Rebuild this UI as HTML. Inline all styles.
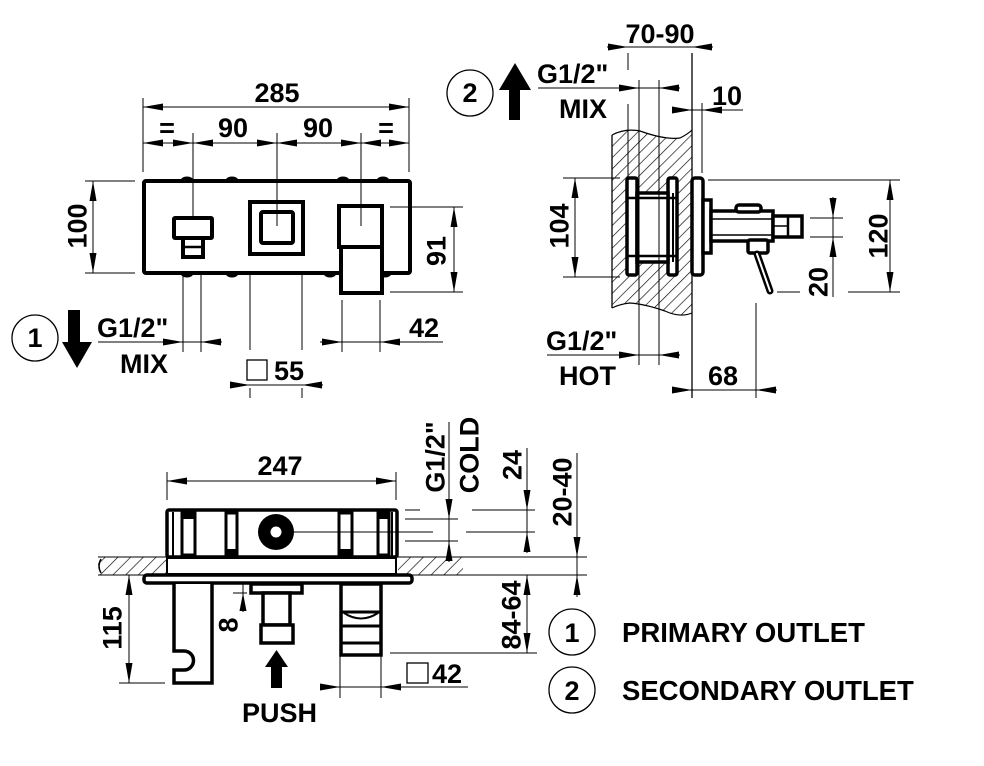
<!DOCTYPE html>
<html><head><meta charset="utf-8"><style>
html,body{margin:0;padding:0;background:#fff;}
svg{display:block;}
text{font-family:"Liberation Sans",Arial,sans-serif;font-weight:bold;fill:#000;}
</style></head><body>
<svg width="984" height="766" viewBox="0 0 984 766" xmlns="http://www.w3.org/2000/svg">
<defs>
<pattern id="h" width="8" height="8" patternUnits="userSpaceOnUse" patternTransform="rotate(45)">
<line x1="0" y1="0" x2="0" y2="8" stroke="#000" stroke-width="1.3"/>
</pattern>
<pattern id="h2" width="9" height="9" patternUnits="userSpaceOnUse" patternTransform="rotate(45)">
<line x1="0" y1="0" x2="0" y2="9" stroke="#000" stroke-width="1.3"/>
</pattern>
</defs>
<g stroke="#000" stroke-width="1" fill="none">
<!-- ========== FRONT VIEW ========== -->
<line x1="143" y1="107" x2="409" y2="107"/>
<line x1="143" y1="98" x2="143" y2="172"/>
<line x1="409" y1="98" x2="409" y2="172"/>
<line x1="143" y1="143" x2="409" y2="143"/>
<line x1="183" y1="257" x2="183" y2="352"/>
<line x1="201" y1="257" x2="201" y2="352"/>
<line x1="250" y1="262" x2="250" y2="350"/>
<line x1="302" y1="262" x2="302" y2="350"/>
<line x1="250" y1="388" x2="250" y2="398"/>
<line x1="302" y1="388" x2="302" y2="398"/>
<line x1="342" y1="300" x2="342" y2="352"/>
<line x1="380" y1="300" x2="380" y2="352"/>
<line x1="98" y1="342" x2="222" y2="342"/>
<line x1="320" y1="342" x2="443" y2="342"/>
<line x1="230" y1="385" x2="323" y2="385"/>
<line x1="93" y1="181" x2="93" y2="273"/>
<line x1="85" y1="181" x2="135" y2="181"/>
<line x1="85" y1="273" x2="135" y2="273"/>
<line x1="454" y1="207" x2="454" y2="292"/>
<line x1="390" y1="292" x2="463" y2="292"/>
<circle cx="35" cy="338" r="23" stroke-width="1.3"/>
<rect x="247" y="360" width="20" height="20" stroke-width="1.3"/>
</g>
<g fill="#000">
<polygon points="143,107 163,103.5 163,110.5"/><polygon points="409,107 389,103.5 389,110.5"/>
<polygon points="143,143 163,139.5 163,146.5"/><polygon points="193,143 173,139.5 173,146.5"/>
<polygon points="193,143 213,139.5 213,146.5"/><polygon points="277,143 257,139.5 257,146.5"/>
<polygon points="277,143 297,139.5 297,146.5"/><polygon points="361,143 341,139.5 341,146.5"/>
<polygon points="361,143 381,139.5 381,146.5"/><polygon points="409,143 389,139.5 389,146.5"/>
<polygon points="183,342 163,338.5 163,345.5"/><polygon points="201,342 221,338.5 221,345.5"/>
<polygon points="342,342 322,338.5 322,345.5"/><polygon points="380,342 400,338.5 400,345.5"/>
<polygon points="250,385 230,381.5 230,388.5"/><polygon points="302,385 322,381.5 322,388.5"/>
<polygon points="93,181 89.5,201 96.5,201"/><polygon points="93,273 89.5,253 96.5,253"/>
<polygon points="454,207 450.5,227 457.5,227"/><polygon points="454,292 450.5,272 457.5,272"/>
<!-- down arrow -->
<rect x="68" y="310" width="12" height="33"/>
<polygon points="62,342 92,342 77,368"/>
<!-- bumps -->
<ellipse cx="187" cy="180" rx="6" ry="3.5"/><ellipse cx="232" cy="180" rx="6" ry="3.5"/>
<ellipse cx="343" cy="180" rx="6" ry="3.5"/><ellipse cx="383" cy="180" rx="6" ry="3.5"/>
<ellipse cx="187" cy="274" rx="6" ry="3.5"/><ellipse cx="232" cy="274" rx="6" ry="3.5"/>
<ellipse cx="330" cy="274" rx="6" ry="3.5"/><ellipse cx="385" cy="274" rx="6" ry="3.5"/>
</g>
<g stroke="#000" stroke-width="4" fill="#fff">
<rect x="144" y="181" width="266" height="92" rx="2"/>
<rect x="174" y="218" width="38" height="20" rx="1"/>
<rect x="183" y="238" width="20" height="19"/>
<rect x="250" y="202" width="53" height="52"/>
<rect x="261" y="212" width="32" height="31" rx="2"/>
<rect x="339" y="206" width="43" height="41"/>
<rect x="341" y="247" width="41" height="46"/>
</g>
<line x1="185" y1="247" x2="202" y2="247" stroke="#000" stroke-width="2.5"/>
<line x1="193" y1="133" x2="193" y2="218" stroke="#000" stroke-width="1"/>
<line x1="277" y1="133" x2="277" y2="226" stroke="#000" stroke-width="1"/>
<line x1="361" y1="133" x2="361" y2="226" stroke="#000" stroke-width="1"/>
<line x1="390" y1="207" x2="463" y2="207" stroke="#000" stroke-width="1"/>

<text x="277" y="102" font-size="27" text-anchor="middle">285</text>
<text x="167" y="137" font-size="27" text-anchor="middle">=</text>
<text x="233" y="137" font-size="27" text-anchor="middle">90</text>
<text x="318" y="137" font-size="27" text-anchor="middle">90</text>
<text x="386" y="137" font-size="27" text-anchor="middle">=</text>
<text x="97" y="337" font-size="27">G1/2"</text>
<text x="120" y="373" font-size="27">MIX</text>
<text x="409" y="337" font-size="27">42</text>
<text x="274" y="380" font-size="27">55</text>
<text x="35" y="347" font-size="27" text-anchor="middle">1</text>
<text transform="translate(77,226) rotate(-90)" y="9.5" font-size="27" text-anchor="middle">100</text>
<text transform="translate(436,251) rotate(-90)" y="9.5" font-size="27" text-anchor="middle">91</text>

<!-- ========== SIDE VIEW ========== -->
<path d="M612,135 Q625,128 640,131 Q665,140 680,138 Q688,134 692,130 L692,313 Q680,318 665,311 Q645,304 630,303 Q620,304 612,308 Z" fill="url(#h)" stroke="none"/>
<path d="M612,135 Q625,128 640,131 Q665,140 680,138 Q688,134 692,130" fill="none" stroke="#000" stroke-width="1.2"/>
<path d="M612,308 Q620,304 630,303 Q645,304 665,311 Q680,318 692,313" fill="none" stroke="#000" stroke-width="1.2"/>
<g stroke="#000" stroke-width="1" fill="none">
<line x1="612" y1="135" x2="612" y2="308" stroke-width="1.3"/>
<line x1="692" y1="53" x2="692" y2="398" stroke-width="1.3"/>
<line x1="607" y1="47" x2="713" y2="47"/>
<line x1="628" y1="53" x2="628" y2="70"/>
<line x1="628" y1="104" x2="628" y2="180"/>
<line x1="538" y1="88" x2="680" y2="88"/>
<line x1="672" y1="110" x2="743" y2="110"/>
<line x1="702" y1="103" x2="702" y2="173"/>
<line x1="575" y1="178" x2="575" y2="277"/>
<line x1="563" y1="178" x2="620" y2="178"/>
<line x1="563" y1="277" x2="620" y2="277"/>
<line x1="890" y1="180" x2="890" y2="292"/>
<line x1="708" y1="180" x2="900" y2="180"/>
<line x1="848" y1="292" x2="900" y2="292"/>
<line x1="833" y1="197" x2="833" y2="297"/>
<line x1="810" y1="218" x2="843" y2="218"/>
<line x1="810" y1="237" x2="843" y2="237"/>
<line x1="777" y1="292" x2="800" y2="292"/>
<line x1="547" y1="355" x2="680" y2="355"/>
<line x1="672" y1="390" x2="777" y2="390"/>
<line x1="756" y1="303" x2="756" y2="398"/>
<circle cx="470" cy="93" r="23" stroke-width="1.3"/>
</g>
<g fill="#000">
<polygon points="628,47 608,43.5 608,50.5"/><polygon points="692,47 712,43.5 712,50.5"/>
<polygon points="639,88 619,84.5 619,91.5"/><polygon points="659,88 679,84.5 679,91.5"/>
<polygon points="692,110 672,106.5 672,113.5"/><polygon points="702,110 722,106.5 722,113.5"/>
<polygon points="575,178 571.5,198 578.5,198"/><polygon points="575,277 571.5,257 578.5,257"/>
<polygon points="890,180 886.5,200 893.5,200"/><polygon points="890,292 886.5,272 893.5,272"/>
<polygon points="833,218 829.5,198 836.5,198"/><polygon points="833,237 829.5,257 836.5,257"/>
<polygon points="639,355 619,351.5 619,358.5"/><polygon points="659,355 679,351.5 679,358.5"/>
<polygon points="692,390 672,386.5 672,393.5"/><polygon points="756,390 776,386.5 776,393.5"/>
<rect x="509" y="89" width="11" height="31"/>
<polygon points="499,90 531,90 515,63"/>
</g>
<g stroke="#000" stroke-width="3.5" fill="#fff">
<rect x="627" y="178" width="10" height="97" rx="2"/>
<rect x="668" y="178" width="9" height="97" rx="2"/>
<rect x="637" y="193" width="31" height="69"/>
<rect x="692" y="178" width="11" height="97" rx="3"/>
<rect x="703" y="200" width="8" height="53"/>
<rect x="711" y="211" width="62" height="30"/>
<rect x="736" y="205" width="25" height="7" rx="3"/>
<rect x="773" y="216" width="29" height="21"/>
<rect x="748" y="240" width="20" height="13" rx="2"/>
</g>
<g stroke="#000" fill="none">
<line x1="627" y1="198" x2="677" y2="198" stroke-width="2.5"/>
<line x1="627" y1="256" x2="677" y2="256" stroke-width="2.5"/>
<line x1="673" y1="193" x2="673" y2="262" stroke-width="2"/>
<line x1="711" y1="219" x2="773" y2="219" stroke-width="1.5"/>
<line x1="711" y1="235" x2="773" y2="235" stroke-width="1.5"/>
<line x1="788" y1="216" x2="788" y2="237" stroke-width="2.5"/>
<line x1="773" y1="226" x2="788" y2="226" stroke-width="1.5"/>
<line x1="757" y1="254" x2="770" y2="291" stroke-width="7" stroke-linecap="round"/>
<line x1="757" y1="254" x2="770" y2="291" stroke="#fff" stroke-width="2" stroke-linecap="round"/>
<line x1="639" y1="80" x2="639" y2="365" stroke-width="1"/>
<line x1="659" y1="80" x2="659" y2="365" stroke-width="1"/>
</g>
<text x="660" y="43" font-size="27" text-anchor="middle">70-90</text>
<text x="537" y="83" font-size="27">G1/2"</text>
<text x="559" y="118" font-size="27">MIX</text>
<text x="712" y="105" font-size="27">10</text>
<text x="546" y="350" font-size="27">G1/2"</text>
<text x="559" y="385" font-size="27">HOT</text>
<text x="723" y="385" font-size="27" text-anchor="middle">68</text>
<text x="470" y="102" font-size="27" text-anchor="middle">2</text>
<text transform="translate(559,226) rotate(-90)" y="9.5" font-size="27" text-anchor="middle">104</text>
<text transform="translate(878,236) rotate(-90)" y="9.5" font-size="27" text-anchor="middle">120</text>
<text transform="translate(818,282) rotate(-90)" y="9.5" font-size="27" text-anchor="middle">20</text>

<!-- ========== BOTTOM VIEW ========== -->
<rect x="98" y="557" width="68" height="18" fill="url(#h2)"/>
<rect x="398" y="557" width="65" height="18" fill="url(#h2)"/>
<g stroke="#000" stroke-width="1" fill="none">
<line x1="98" y1="557" x2="587" y2="557"/>
<line x1="98" y1="575" x2="587" y2="575"/>
<path d="M101,559 Q97,566 101,573" stroke-width="1.5"/>
<line x1="167" y1="481" x2="396" y2="481"/>
<line x1="167" y1="472" x2="167" y2="500"/>
<line x1="396" y1="472" x2="396" y2="500"/>
<line x1="405" y1="510" x2="420" y2="510"/>
<line x1="472" y1="510" x2="535" y2="510"/>
<line x1="466" y1="532" x2="535" y2="532"/>
<line x1="405" y1="519" x2="458" y2="519"/>
<line x1="405" y1="541" x2="458" y2="541"/>
<line x1="449" y1="422" x2="449" y2="562"/>
<line x1="527" y1="448" x2="527" y2="553"/>
<line x1="577" y1="453" x2="577" y2="597"/>
<line x1="243" y1="563" x2="243" y2="612"/>
<line x1="233" y1="593" x2="247" y2="593"/>
<line x1="129" y1="575" x2="129" y2="683"/>
<line x1="119" y1="683" x2="165" y2="683"/>
<line x1="527" y1="575" x2="527" y2="653"/>
<line x1="390" y1="653" x2="537" y2="653"/>
<line x1="320" y1="687" x2="468" y2="687"/>
<line x1="340" y1="655" x2="340" y2="698"/>
<line x1="381" y1="655" x2="381" y2="698"/>
<rect x="407" y="663" width="21" height="20" stroke-width="1.3"/>
</g>
<g fill="#000">
<polygon points="167,481 187,477.5 187,484.5"/><polygon points="396,481 376,477.5 376,484.5"/>
<polygon points="449,519 445.5,499 452.5,499"/><polygon points="449,541 445.5,561 452.5,561"/>
<polygon points="527,510 523.5,490 530.5,490"/><polygon points="527,532 523.5,552 530.5,552"/>
<polygon points="577,557 573.5,537 580.5,537"/><polygon points="577,575 573.5,595 580.5,595"/>
<polygon points="243,583 239.5,565 246.5,565"/><polygon points="243,593 239.5,611 246.5,611"/>
<polygon points="129,575 125.5,595 132.5,595"/><polygon points="129,683 125.5,663 132.5,663"/>
<polygon points="527,575 523.5,595 530.5,595"/><polygon points="527,653 523.5,633 530.5,633"/>
<polygon points="340,687 320,683.5 320,690.5"/><polygon points="381,687 401,683.5 401,690.5"/>
<rect x="271" y="666" width="11" height="22"/>
<polygon points="265,667 288,667 276.5,650"/>
</g>
<g stroke="#000" stroke-width="3.5" fill="#fff">
<rect x="167" y="558" width="229" height="16" stroke-width="2"/>
<rect x="167" y="510" width="230" height="47" rx="2"/>
<rect x="144" y="575" width="268" height="8" rx="3"/>
<path d="M174,584 L174,651 L184,651 A9.5 9.5 0 1 1 184,670 L174,670 L174,683 L212,683 L212,584"/>
<rect x="251" y="584" width="51" height="9"/>
<rect x="263" y="593" width="27" height="32"/>
<rect x="261" y="625" width="32" height="18"/>
<rect x="341" y="584" width="40" height="71"/>
</g>
<g stroke="#000" fill="none">
<line x1="173" y1="512" x2="173" y2="556" stroke-width="2"/>
<line x1="392" y1="512" x2="392" y2="556" stroke-width="2"/>
<rect x="182" y="513" width="13" height="42" stroke-width="3"/>
<rect x="226" y="513" width="11" height="42" stroke-width="3"/>
<rect x="339" y="513" width="13" height="42" stroke-width="3"/>
<rect x="378" y="513" width="11" height="42" stroke-width="3"/>
<line x1="341" y1="612" x2="381" y2="612" stroke-width="3"/>
<path d="M344,613 Q361,624 378,613" stroke-width="2"/>
<line x1="341" y1="626" x2="381" y2="626" stroke-width="3"/>
<line x1="341" y1="643" x2="381" y2="643" stroke-width="3"/>
<line x1="276" y1="532" x2="433" y2="532" stroke-width="1"/>
</g>
<g fill="#000">
<rect x="182" y="513" width="13" height="6"/>
<rect x="378" y="513" width="11" height="6"/>
<rect x="226" y="549" width="11" height="6"/>
<rect x="339" y="549" width="13" height="6"/>
<circle cx="276" cy="532" r="18"/>
</g>
<circle cx="276" cy="532" r="5.5" fill="#fff"/>
<text x="280" y="475" font-size="27" text-anchor="middle">247</text>
<text x="242" y="722" font-size="27">PUSH</text>
<text x="432" y="683" font-size="27">42</text>
<text transform="translate(435,457) rotate(-90)" y="9.5" font-size="27" text-anchor="middle">G1/2"</text>
<text transform="translate(469,455) rotate(-90)" y="9.5" font-size="27" text-anchor="middle">COLD</text>
<text transform="translate(512,465) rotate(-90)" y="9.5" font-size="27" text-anchor="middle">24</text>
<text transform="translate(562,492) rotate(-90)" y="9.5" font-size="27" text-anchor="middle">20-40</text>
<text transform="translate(112,628) rotate(-90)" y="9.5" font-size="27" text-anchor="middle">115</text>
<text transform="translate(511,615) rotate(-90)" y="9.5" font-size="27" text-anchor="middle">84-64</text>
<text transform="translate(228,625) rotate(-90)" y="9.5" font-size="27" text-anchor="middle">8</text>

<!-- ========== LEGEND ========== -->
<circle cx="572" cy="632" r="23" stroke="#000" stroke-width="1.3" fill="none"/>
<circle cx="572" cy="690" r="23" stroke="#000" stroke-width="1.3" fill="none"/>
<text x="572" y="642" font-size="27" text-anchor="middle">1</text>
<text x="572" y="700" font-size="27" text-anchor="middle">2</text>
<text x="622" y="642" font-size="27.5">PRIMARY OUTLET</text>
<text x="622" y="700" font-size="27.5">SECONDARY OUTLET</text>
</svg>
</body></html>
